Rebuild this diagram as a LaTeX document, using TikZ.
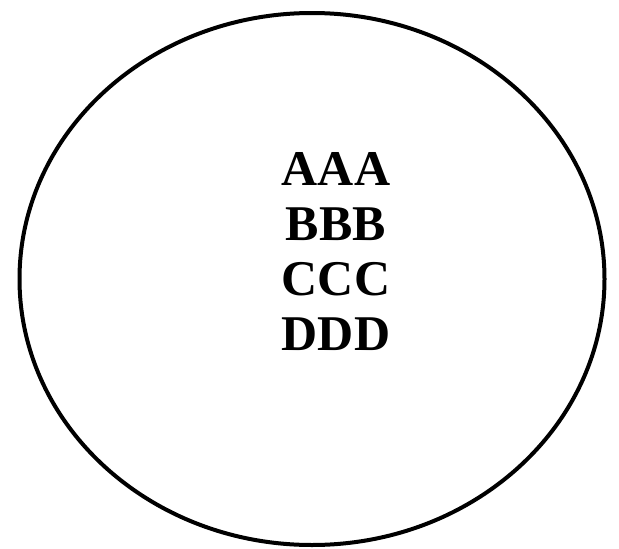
\documentclass[tikz,border=0pt]{standalone}
\usepackage{fontspec}
\setmainfont{Liberation Serif}
\usetikzlibrary{shapes.geometric}
\begin{document}
\begin{tikzpicture}[x=1pt,y=-1pt,
  ring/.style={draw, line width=4pt, ellipse, inner sep=0pt},
  label/.style={font=\bfseries\fontsize{50}{55}\selectfont, align=center, inner sep=0pt}]
\useasboundingbox (0,0) rectangle (619,549);
\node[ring, minimum width=585pt, minimum height=532pt] (oval) at (312,279) {};
\node[label, anchor=base] (a) at (336,185) {AAA};
\node[label, anchor=base] (b) at (336,240) {BBB};
\node[label, anchor=base] (c) at (336,295) {CCC};
\node[label, anchor=base] (d) at (336,350) {DDD};
\end{tikzpicture}
\end{document}
